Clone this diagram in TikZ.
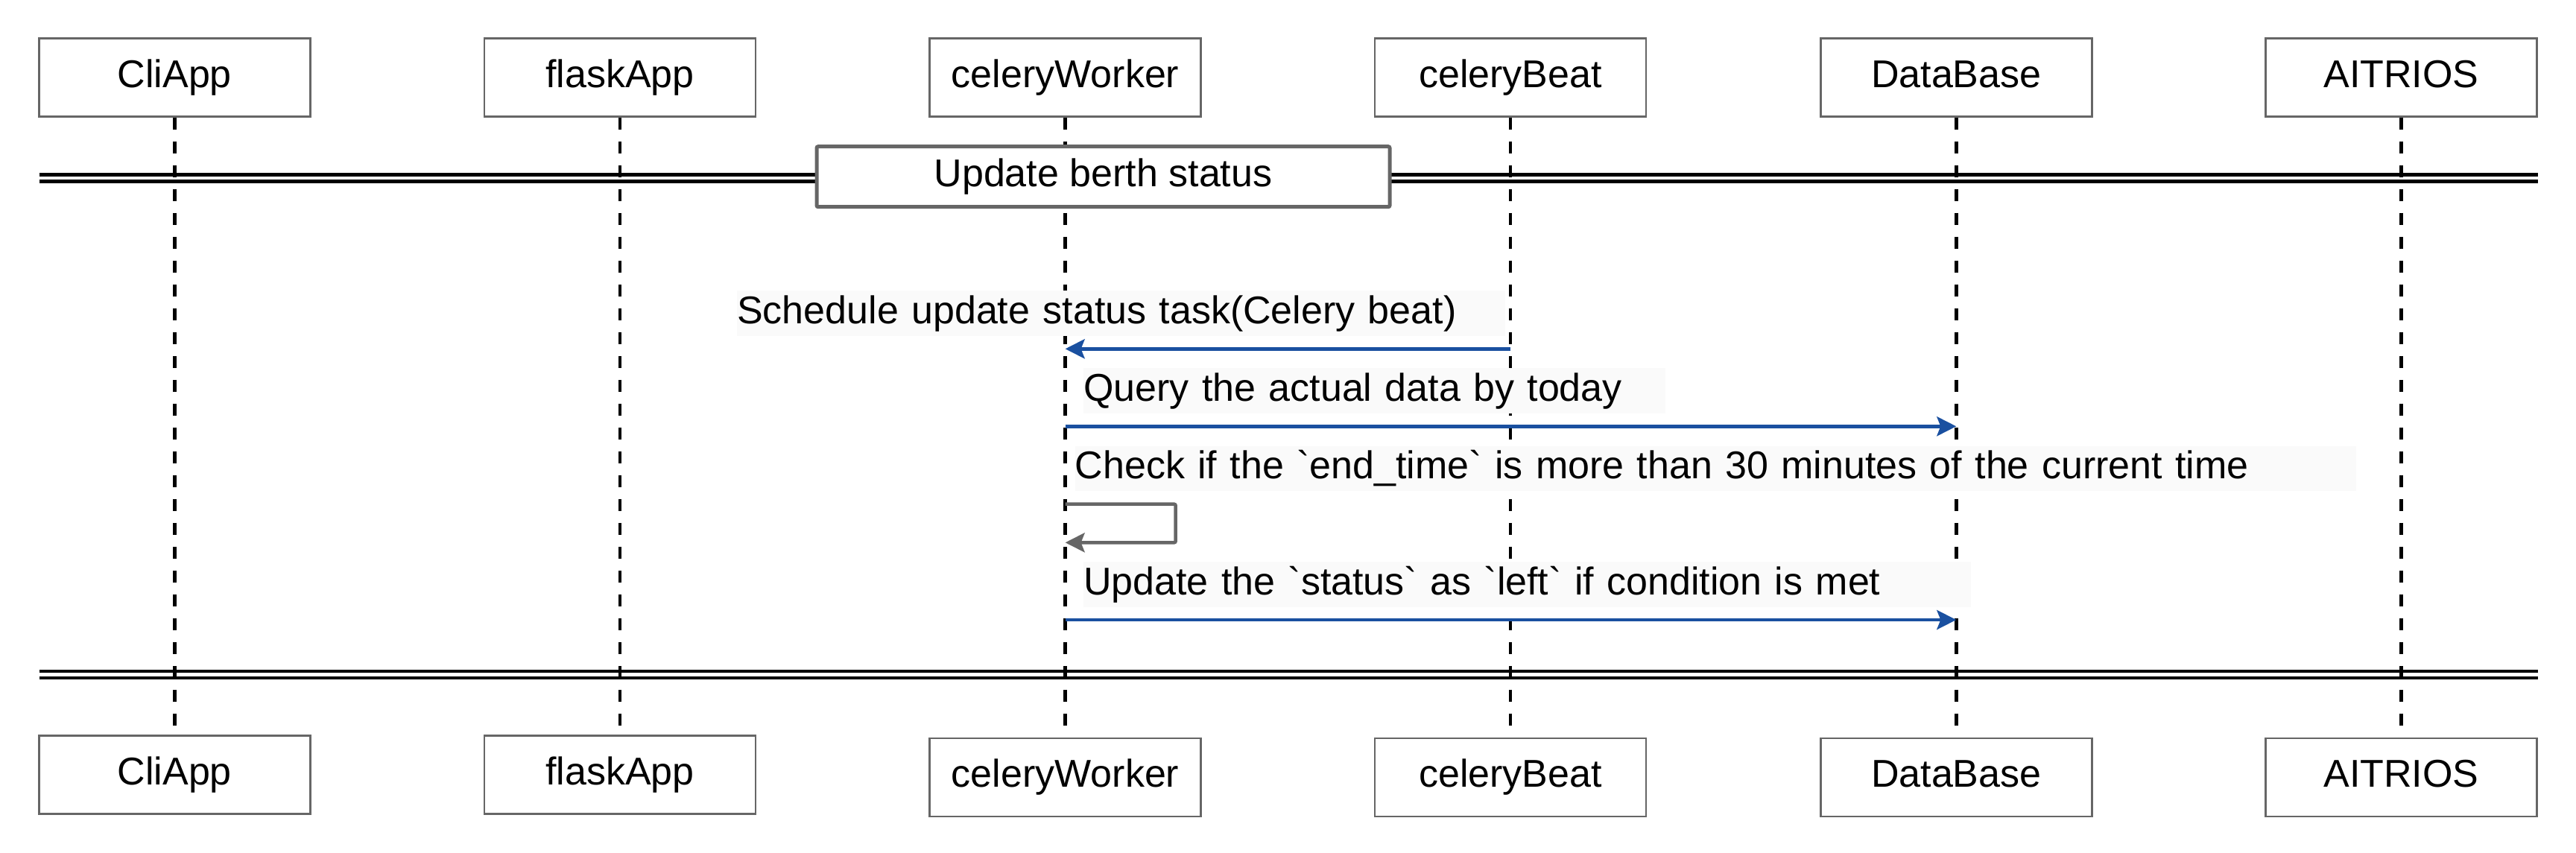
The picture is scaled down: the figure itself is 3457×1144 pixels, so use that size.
\documentclass[tikz,border=0pt]{standalone}
\usepackage{fontspec}
\setmainfont{Liberation Sans}[Ligatures=TeXOff]
\usetikzlibrary{arrows.meta}
\definecolor{msgblue}{RGB}{26,80,160}
\definecolor{boxgray}{RGB}{102,102,102}
\definecolor{labbg}{RGB}{250,250,250}
\newcommand{\bq}{\symbol{96}}
\begin{document}
\begin{tikzpicture}[x=1pt,y=-1pt,
  font=\fontsize{52}{60}\selectfont,
  pbox/.style={draw=boxgray, line width=2.5pt, fill=white, minimum width=364pt,
    minimum height=105pt, inner sep=0pt, text height=38pt, text depth=11pt},
  titlebox/.style={draw=boxgray, line width=5pt, fill=white, minimum width=769pt,
    minimum height=81pt, inner sep=0pt, rounded corners=2pt, text height=38pt, text depth=11pt},
  lifeline/.style={draw=black, line width=4.5pt, dash pattern=on 16.5pt off 15.5pt},
  sepline/.style={draw=black, line width=4.4pt},
  lab/.style={anchor=north west, fill=labbg, inner xsep=0pt, inner ysep=0pt,
    align=left, text height=38pt, text depth=11pt},
  msg/.style={draw=msgblue, line width=4.5pt, -{Stealth[length=26pt, width=26pt, inset=5pt]}},
  selfmsg/.style={draw=boxgray, line width=4.5pt, rounded corners=2pt,
    -{Stealth[length=26pt, width=26pt, inset=5pt]}}
]
\useasboundingbox (0,0) rectangle (3457,1144);

% participants (top)
\node[pbox] (cliT)    at (234.3,104.2)  {CliApp};
\node[pbox] (flaskT)  at (832,104.2)    {flaskApp};
\node[pbox] (workerT) at (1429.6,104.2) {celeryWorker};
\node[pbox] (beatT)   at (2027,104.2)   {celeryBeat};
\node[pbox] (dbT)     at (2625.3,104.2) {DataBase};
\node[pbox] (aiT)     at (3222.5,104.2) {AITRIOS};
% participants (bottom)
\node[pbox] (cliB)    at (234.3,1040.2)  {CliApp};
\node[pbox] (flaskB)  at (832,1040.2)    {flaskApp};
\node[pbox] (workerB) at (1429.6,1043.3) {celeryWorker};
\node[pbox] (beatB)   at (2027,1043.3)   {celeryBeat};
\node[pbox] (dbB)     at (2625.3,1043.3) {DataBase};
\node[pbox] (aiB)     at (3222.5,1043.3) {AITRIOS};

% lifelines
\foreach \p in {cli,flask,worker,beat,db,ai}{
  \draw[lifeline] (\p T.south) -- (\p B.north);
}

% group separators
\coordinate (sepL1) at (52.6,234.5);  \coordinate (sepR1) at (3405.5,234.5);
\coordinate (sepL2) at (52.6,243.5);  \coordinate (sepR2) at (3405.5,243.5);
\coordinate (sepL3) at (52.6,901.2);  \coordinate (sepR3) at (3405.5,901.2);
\coordinate (sepL4) at (52.6,910.2);  \coordinate (sepR4) at (3405.5,910.2);
\draw[sepline] (sepL1) -- (sepR1);
\draw[sepline] (sepL2) -- (sepR2);
\draw[sepline] (sepL3) -- (sepR3);
\draw[sepline] (sepL4) -- (sepR4);
\node[titlebox] (title) at (1480.5,237.2) {Update berth status};

% message labels
\node[lab, text width=1030.6pt, minimum height=60.7pt] (l1) at (989,390)
  {Schedule update status task(Celery beat)};
\node[lab, text width=781pt, minimum height=60.7pt] (l2) at (1454,494)
  {Query the actual data by today};
\node[lab, text width=1719.5pt, minimum height=60pt] (l3) at (1442.5,598.3)
  {Check if the \bq end\_time\bq\ is more than 30 minutes of the current time};
\node[lab, text width=1191pt, minimum height=61pt] (l4) at (1454,754)
  {Update the \bq status\bq\ as \bq left\bq\ if condition is met};

% message anchors
\coordinate (beat1) at (2027,468.3);   \coordinate (worker1) at (1429.6,468.3);
\coordinate (worker2) at (1429.6,572.3); \coordinate (db2) at (2625.3,572.3);
\coordinate (worker3a) at (1429.6,676.7); \coordinate (loopA) at (1577.7,676.7);
\coordinate (loopB) at (1577.7,728.3); \coordinate (worker3b) at (1429.6,728.3);
\coordinate (worker4) at (1429.6,832); \coordinate (db4) at (2625.3,832);

\draw[msg] (beat1) -- (worker1);
\draw[msg] (worker2) -- (db2);
\draw[selfmsg] (worker3a) -- (loopA) -- (loopB) -- (worker3b);
\draw[msg] (worker4) -- (db4);
\end{tikzpicture}
\end{document}
